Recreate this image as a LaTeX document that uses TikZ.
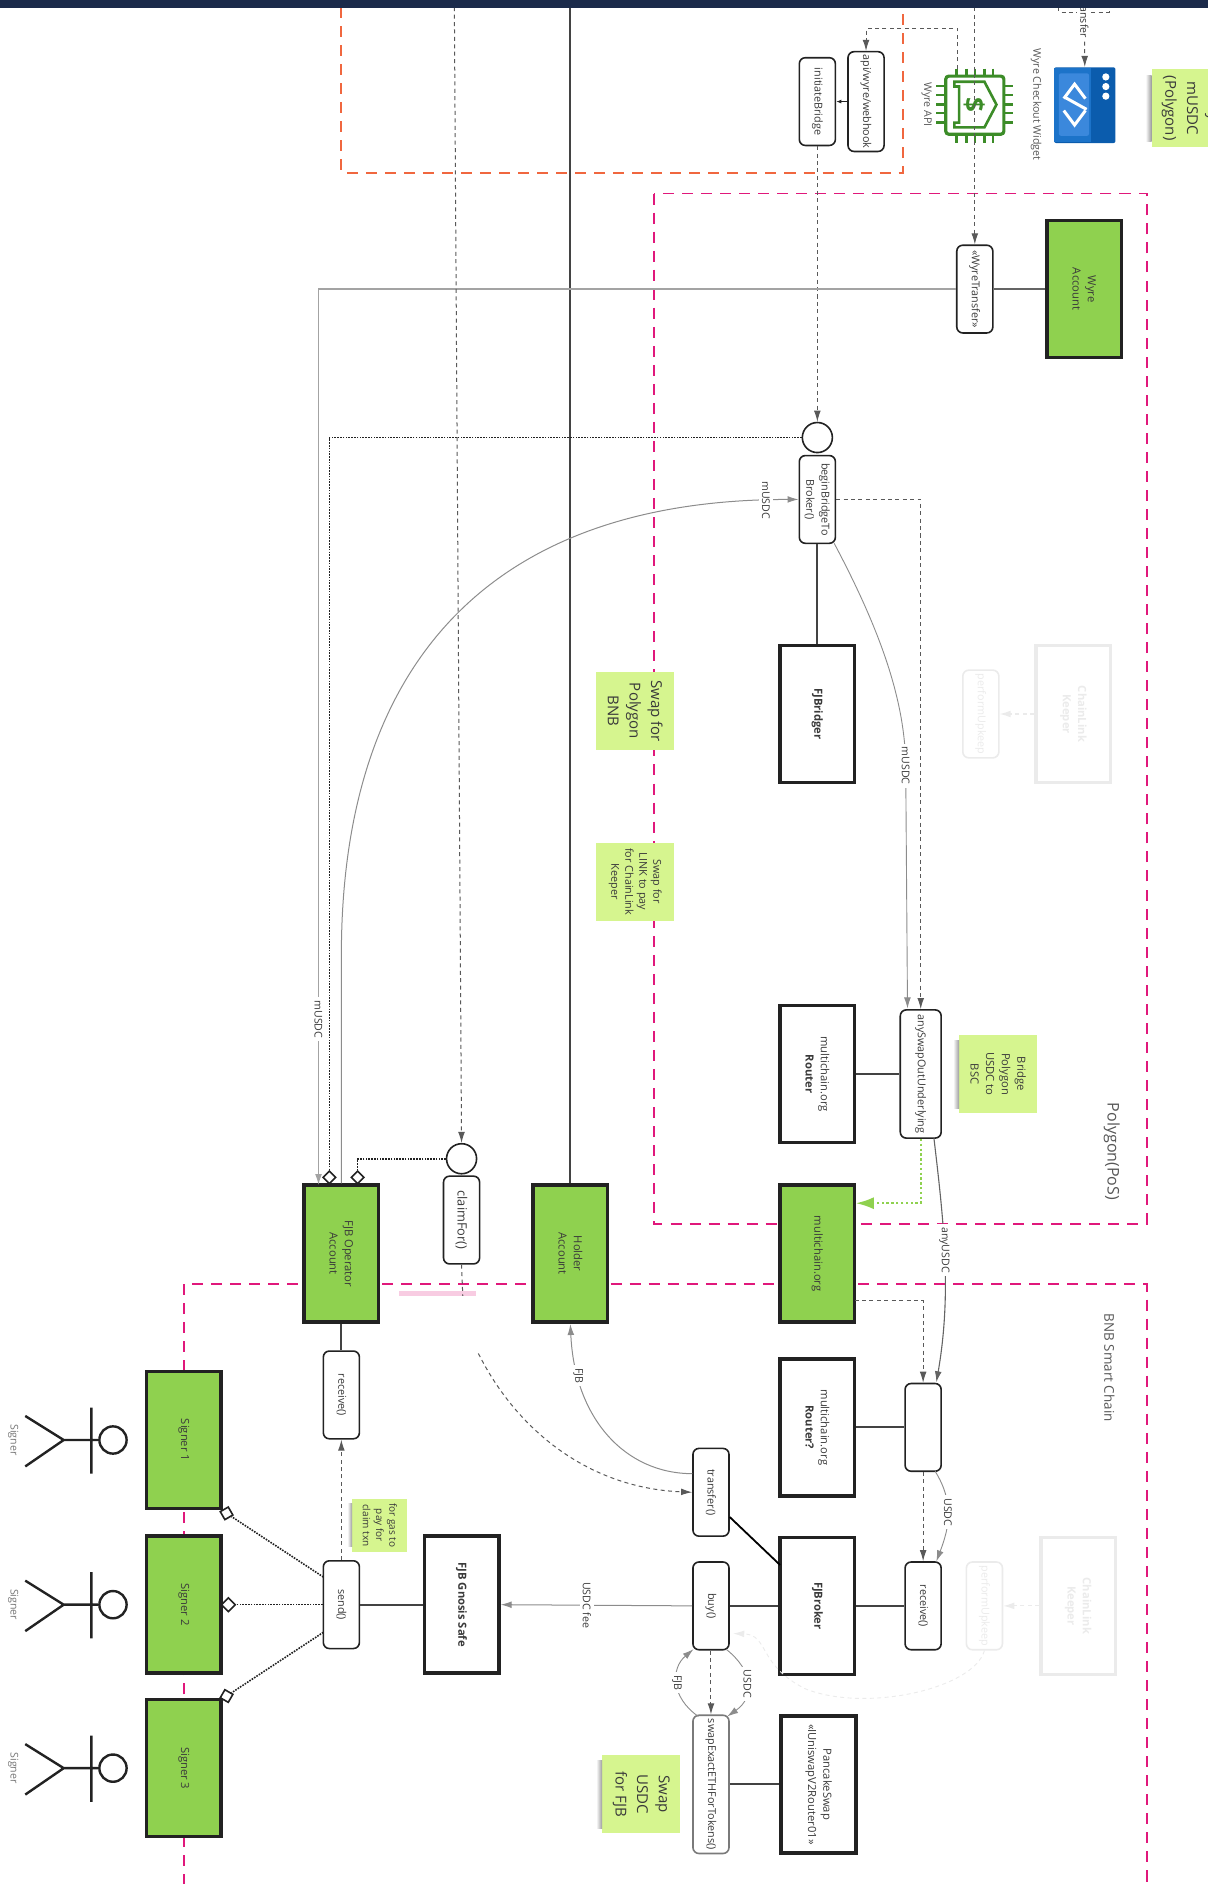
\documentclass[tikz,border=0pt]{standalone}
\usepackage{fontspec}
\setmainfont{Open Sans}
\usetikzlibrary{shapes.geometric, arrows.meta}
\definecolor{navybar}{HTML}{1B2A4A}
\definecolor{zonepink}{HTML}{E0187B}
\definecolor{zoneorange}{HTML}{F0673F}
\definecolor{acctgreen}{HTML}{8FD14F}
\definecolor{notegreen}{HTML}{D6F58F}
\definecolor{inkdark}{HTML}{222222}
\definecolor{inktext}{HTML}{3A3A3A}
\definecolor{flowgray}{HTML}{8C8C8C}
\definecolor{fadegray}{HTML}{EBEBEB}
\definecolor{chipgreen}{HTML}{3C8C28}
\definecolor{widgetdark}{HTML}{0B5CAD}
\definecolor{widgetmid}{HTML}{1C73C9}
\definecolor{widgetlight}{HTML}{3B88DC}
\tikzset{
    >={Latex[length=5.5pt,width=3.4pt]},
    zone/.style = {
        draw=zonepink,
        line width=0.9pt,
        dash pattern=on 5.5pt off 4pt
    },
    contract/.style = {
        rectangle, draw=inkdark, fill=white, rotate=-90,
        line width=1.8pt,
        minimum width=68.4pt,
        minimum height=37.2pt,
        inner sep=0pt, align=center, text=inktext,
        font=\fontsize{5.6}{7.6}\selectfont
    },
    account/.style = {
        contract, fill=acctgreen
    },
    fadedbox/.style = {
        contract, draw=fadegray, text=fadegray
    },
    func/.style = {
        rectangle, draw=inkdark, fill=white, rotate=-90,
        rounded corners=3pt,
        line width=0.8pt,
        minimum width=43.8pt,
        minimum height=18pt,
        inner sep=0pt, align=center, text=inktext,
        font=\fontsize{5.4}{7.6}\selectfont
    },
    fadedfunc/.style = {
        func, draw=fadegray, text=fadegray
    },
    port/.style = {
        circle, draw=inkdark, fill=white,
        line width=0.8pt,
        minimum size=15pt, inner sep=0pt
    },
    note/.style = {
        rectangle, fill=notegreen, rotate=-90,
        minimum width=39pt,
        minimum height=39pt,
        inner sep=0pt, align=center, text=inktext,
        font=\fontsize{5.4}{7}\selectfont
    },
    bignote/.style = {
        note, font=\fontsize{7.5}{10.8}\selectfont
    },
    notedrop/.style = {
        left color=white, right color=black!40, draw=none
    },
    tag/.style = {
        rotate=-90, inner sep=0pt, align=center, text=inktext!85,
        font=\fontsize{5.3}{6.4}\selectfont
    },
    edgetag/.style = {
        tag, fill=white, inner sep=1.5pt, text=inktext
    },
    zonetag/.style = {
        tag, font=\fontsize{8}{9}\selectfont
    },
    link/.style = {
        draw=inkdark!85, line width=0.9pt
    },
    flow/.style = {
        ->, draw=flowgray, line width=0.5pt
    },
    call/.style = {
        ->, draw=inkdark!75, line width=0.5pt,
        dash pattern=on 2pt off 1.7pt
    },
    faded/.style = {
        ->, draw=fadegray, line width=0.6pt,
        dash pattern=on 2pt off 1.7pt
    },
    owner/.style = {
        draw=inkdark, line width=0.8pt,
        dash pattern=on 0.8pt off 0.6pt
    },
    opendiamond/.style = {
        diamond, draw=inkdark, fill=white,
        line width=0.8pt,
        minimum size=6.6pt, inner sep=0pt
    },
    opensquare/.style = {
        rectangle, draw=inkdark, fill=white,
        line width=0.8pt,
        minimum size=4.6pt, inner sep=0pt
    },
    actor/.style = {
        draw=inkdark, line width=1.2pt
    },
    actorhead/.style = {
        circle, draw=inkdark, fill=white,
        line width=1.2pt,
        minimum size=13.6pt, inner sep=0pt
    }
}
\begin{document}
\begin{tikzpicture}[x=0.6pt, y=-0.6pt]

\useasboundingbox (0,0) rectangle (1005,1567.4);

\draw [zone, draw=zoneorange] (284,6) -- (284,144) -- (751,144) -- (751,6);
\draw [zone] (544,161) rectangle (954,1018);
\draw [zone] (153,1568) -- (153,1068) -- (954,1068) -- (954,1568);

\node (polygonzone) [zonetag] at (925,958) {Polygon(PoS)};
\node (bnbzone) [zonetag, font=\fontsize{6.7}{8}\selectfont] at (923,1138) {BNB Smart Chain};

\node (webhook) [func, minimum width=49.8pt] at (720.5,84.5) {api/wyre/webhook};
\node (initbridge) [func] at (680,84.5) {initiateBridge};
\node (wyretransfer) [func] at (811,240.5) {«WyreTransfer»};
\node (wyreacct) [account] at (902,240.5) {Wyre\\Account};
\node (beginbridge) [func] at (680,415.5) {beginBridgeTo\\Broker()};
\node (beginport) [port] at (680,364) {};
\node (fjbridger) [contract] at (680,594) {\textbf{FJBridger}};
\node (keepera) [fadedbox] at (893,594) {\textbf{ChainLink}\\\textbf{Keeper}};
\node (upkeepa) [fadedfunc] at (816,594) {performUpkeep};
\node (swappoly) [bignote] at (528.5,591.5) {Swap for\\Polygon\\BNB};
\node (swaplink) [note] at (528.5,733.5) {Swap for\\LINK to pay\\for ChainLink\\Keeper};
\node (anyswap) [func, minimum width=64pt, minimum height=20.4pt] at (766,893.5) {anySwapOutUnderlying};
\node (routera) [contract] at (680,893.5) {multichain.org\\\textbf{Router}};
\node (bridgenote) [note, font=\fontsize{5.6}{7.8}\selectfont] at (830.5,893.5) {Bridge\\Polygon\\USDC to\\BSC};
\node (multichain) [account] at (680,1043) {multichain.org};
\node (holder) [account] at (474.5,1043) {Holder\\Account};
\node (operator) [account] at (284,1043) {FJB Operator\\Account};
\node (claimfor) [func, font=\fontsize{6.4}{7.6}\selectfont] at (384,1015) {claimFor()};
\node (claimport) [port] at (384,964) {};
\node (pinkbar) [rectangle, fill=zonepink!22, minimum width=38.4pt, minimum height=2.4pt, inner sep=0pt] at (364,1076) {};
\node (dstrouter) [func] at (768,1187.5) {};
\node (routerb) [contract] at (680,1187.5) {multichain.org\\\textbf{Router?}};
\node (transfer) [func] at (591.5,1241.5) {transfer()};
\node (fjbroker) [contract] at (680,1336) {\textbf{FJBroker}};
\node (receiveb) [func] at (768,1336) {receive()};
\node (buy) [func] at (591.5,1336) {buy()};
\node (upkeepb) [fadedfunc] at (819,1336) {performUpkeep};
\node (keeperb) [fadedbox] at (897,1336) {\textbf{ChainLink}\\\textbf{Keeper}};
\node (swapexact) [func, minimum width=69pt, draw=inkdark!60] at (591.5,1484.5) {swapExactETHForTokens()};
\node (pancake) [contract] at (681,1484.5) {PancakeSwap\\«IUniswapV2Router01»};
\node (swapfjb) [bignote] at (533.5,1492.5) {Swap\\USDC\\for FJB};
\node (gnosis) [contract] at (384,1335) {\textbf{FJB Gnosis Safe}};
\node (receivea) [func] at (284,1160.5) {receive()};
\node (send) [func] at (284,1335) {send()};
\node (gasnote) [note, font=\fontsize{5}{6.6}\selectfont, minimum width=26.4pt, minimum height=27.6pt] at (316,1269) {for gas to\\pay for\\claim txn};
\node (signera) [account] at (153,1198) {Signer 1};
\node (signerb) [account] at (153,1335) {Signer 2};
\node (signerc) [account] at (153,1471) {Signer 3};

\path [notedrop] (793,866) rectangle (798,922);
\path [notedrop] (953,63) rectangle (958,118);
\path [notedrop] (496,1465) rectangle (501,1521);
\path [notedrop] (289,1251) rectangle (293,1287);
\node (buynote) [bignote] at (990.5,90) {Buy\\mUSDC\\(Polygon)};

\draw [line width=0.8pt, draw=inkdark!70] (wyreacct.south) -- (wyretransfer.north);
\draw [link] (beginbridge.east) -- (fjbridger.west);
\draw [link] (routera.north) -- (anyswap.south);
\draw [link] (routerb.north) -- (dstrouter.south);
\draw [link] (fjbroker.north) -- (receiveb.south);
\draw [link] (buy.north) -- (fjbroker.south);
\draw [link] (swapexact.north) -- (pancake.south);
\draw [link] (send.north) -- (gnosis.south);
\draw [link] (operator.east) -- (receivea.west);

\coordinate (transfercorner) at (607,1262);
\coordinate (brokercorner) at (649,1302);
\draw [link, draw=black] (transfercorner) -- (brokercorner);

\coordinate (holdertop) at (474.5,6);
\draw [link, draw=inkdark!85, line width=1pt] (holdertop) -- (holder.west);

\node (chip) [rectangle, draw=chipgreen, rounded corners=1.5pt, line width=1.6pt, minimum size=29pt, inner sep=0pt] at (811,87.5) {};
\draw [draw=chipgreen, line width=1.3pt] (796,57) -- (796,63) (804,57) -- (804,63) (811,57) -- (811,63) (819,57) -- (819,63) (826,57) -- (826,63);
\draw [draw=chipgreen, line width=1.3pt] (796,112) -- (796,119) (804,112) -- (804,119) (811,112) -- (811,119) (819,112) -- (819,119) (826,112) -- (826,119);
\draw [draw=chipgreen, line width=1.3pt] (779,71.5) -- (786,71.5) (779,79) -- (786,79) (779,87) -- (786,87) (779,94) -- (786,94) (779,102) -- (786,102);
\draw [draw=chipgreen, line width=1.3pt] (836,71.5) -- (843,71.5) (836,79) -- (843,79) (836,87) -- (843,87) (836,94) -- (843,94) (836,102) -- (843,102);
\draw [draw=chipgreen, line width=1.3pt] (794,68) -- (794,72) -- (798,72) -- (798,102) -- (794,102) -- (794,106) -- (819,106) -- (829,87) -- (819,68) -- cycle;
\node (chipdollar) [rotate=-90, text=chipgreen, font=\fontsize{13}{13}\bfseries] at (811,87.5) {\$};
\node (wyreapitag) [tag] at (771,87) {Wyre API};
\node (checkouttag) [tag] at (862,87) {Wyre Checkout Widget};

\node (widget) [rectangle, fill=widgetdark, rounded corners=1pt, minimum width=30.6pt, minimum height=37.8pt, inner sep=0pt] at (902.5,87.5) {};
\path [fill=widgetmid] (877,56.5) rectangle (908,118.5);
\path [fill=widgetlight] (881,61) [rounded corners=1pt] rectangle (906,113);
\draw [white, line width=1.5pt] (885,82) -- (894,70) -- (903,82);
\draw [white, line width=1.5pt] (886,81) -- (904,91);
\draw [white, line width=1.5pt] (885,92) -- (894,104) -- (903,92);
\path [fill=white] (920,64) circle [radius=3] (920,72) circle [radius=3] (920,80) circle [radius=3];

\coordinate (checkoutleft) at (881,6);
\coordinate (checkoutbend) at (881,10);
\coordinate (checkoutright) at (923,6);
\coordinate (checkoutbendb) at (923,10);
\coordinate (checkoutmid) at (902,10);
\draw [call, -] (checkoutleft) -- (checkoutbend) -- (checkoutbendb) -- (checkoutright);
\draw [call] (checkoutmid) -- node[edgetag, pos=0.1] {Transfer} (widget.north);

\coordinate (wyrelinetop) at (811,6);
\draw [call] (wyrelinetop) -- (wyretransfer.west);

\coordinate (chiptop) at (797,57);
\coordinate (chipbend) at (797,24);
\coordinate (hookbend) at (720.5,24);
\draw [call] (chiptop) -- (chipbend) -- (hookbend) -- (webhook.west);

\draw [->, draw=inkdark, line width=0.4pt, >={Latex[length=2.6pt,width=2pt]}] (webhook.south) -- (initbridge.north);
\draw [call] (initbridge.east) -- (beginport.north);

\coordinate (mintbend) at (265,240.5);
\coordinate (operatormint) at (265,986);
\draw [flow, draw=flowgray!80, line width=0.7pt] (wyretransfer.south) -- (mintbend) -- node[edgetag, pos=0.815] {mUSDC} (operatormint);

\node (beginowner) [opendiamond] at (274,979.5) {};
\draw [owner] (beginport.west) -| (beginowner.north);
\node (claimowner) [opendiamond] at (297.5,979.5) {};
\draw [owner] (claimport.west) -| (claimowner.north);

\draw [flow] (operator.west) -- ++(0,-190) .. controls (284,560) and (400,415.5) .. node[edgetag, pos=0.965] {mUSDC} (beginbridge.south);

\coordinate (beginright) at (766,415.5);
\draw [call] (beginbridge.north) -- (beginright) -- (anyswap.west);

\coordinate (begincorner) at (694,452);
\coordinate (anyswapin) at (755,839);
\draw [flow, line width=0.45pt] (begincorner) .. controls (730,520) and (753,580) .. (753.5,637) -- node[edgetag, pos=0] {mUSDC} (anyswapin);

\coordinate (anyswapbend) at (766,1001);
\coordinate (anyswapout) at (777,947);
\coordinate (dstin) at (779,1150);
\coordinate (multichainedge) at (712,1001);
\draw [->, draw=acctgreen, line width=1.1pt, dash pattern=on 1.2pt off 1.2pt, >={Latex[length=9pt,width=6pt]}] (anyswap.east) -- (anyswapbend) -- (multichainedge);
\draw [->, draw=inkdark!70, line width=0.55pt] (anyswapout) .. controls (785,1015) and (792,1075) .. node[edgetag, pos=0.47] {anyUSDC} (dstin);

\coordinate (multichainout) at (711,1082);
\coordinate (multichainbend) at (768,1082);
\draw [call] (multichainout) -- (multichainbend) -- (dstrouter.west);

\draw [call] (dstrouter.east) -- (receiveb.west);
\coordinate (dstcorner) at (778,1224);
\coordinate (receivecorner) at (779,1299);
\draw [flow, line width=0.45pt] (dstcorner) .. controls (794,1250) and (790,1270) .. node[edgetag, pos=0.47] {USDC} (receivecorner);

\draw [faded] (keepera.south) -- (upkeepa.north);
\draw [faded] (keeperb.south) -- (upkeepb.north);
\coordinate (buycorner) at (610,1359);
\draw [faded, line width=0.45pt] (upkeepb.east) .. controls (810,1405) and (720,1425) .. (670,1405) .. controls (630,1385) and (640,1360) .. (buycorner);

\coordinate (transferleft) at (576,1226);
\draw [flow, line width=0.5pt] (transferleft) .. controls (520,1226) and (478,1180) .. node[edgetag, pos=0.8] {FJB} (holder.east);

\draw [flow] (buy.south) -- node[edgetag, pos=0.55] {USDC fee} (gnosis.north);

\draw [call] (buy.east) -- (swapexact.west);
\coordinate (buyrightcorner) at (604,1372);
\coordinate (swaprightcorner) at (605,1428);
\coordinate (buyleftcorner) at (577,1372);
\coordinate (swapleftcorner) at (581,1428);
\draw [flow, line width=0.45pt] (buyrightcorner) .. controls (627,1390) and (628,1412) .. node[edgetag, pos=0.5] {USDC} (swaprightcorner);
\draw [flow, line width=0.45pt] (swapleftcorner) .. controls (558,1412) and (558,1388) .. node[edgetag, pos=0.5] {FJB} (buyleftcorner);

\coordinate (claimtop) at (378,6);
\draw [call] (claimtop) -- (claimport.north);
\coordinate (claimstub) at (385,1078);
\draw [call, -] (claimfor.east) -- (claimstub);
\coordinate (claimresume) at (398,1126);
\draw [call] (claimresume) .. controls (430,1190) and (490,1238) .. (transfer.south);

\draw [call] (send.west) -- (receivea.east);

\node (signerabox) [opensquare, rotate=30] at (188.5,1259) {};
\node (signerbbox) [opendiamond, minimum size=7.2pt] at (190,1335) {};
\node (signercbox) [opensquare, rotate=-30] at (188.5,1411) {};
\coordinate (sendupper) at (269,1312);
\coordinate (sendlower) at (269,1358);
\draw [owner] (sendupper) -- (signerabox);
\draw [owner] (send.south) -- (signerbbox);
\draw [owner] (sendlower) -- (signercbox);

\node (heada) [actorhead] at (94,1198) {};
\node (headb) [actorhead] at (94,1335) {};
\node (headc) [actorhead] at (94,1471) {};
\coordinate (hipa) at (53,1198);
\coordinate (hipb) at (53,1335);
\coordinate (hipc) at (53,1471);
\draw [actor] (heada) -- (hipa) -- (21,1178) (hipa) -- (21,1220) (76,1171) -- (76,1226);
\draw [actor] (headb) -- (hipb) -- (21,1315) (hipb) -- (21,1357) (76,1308) -- (76,1363);
\draw [actor] (headc) -- (hipc) -- (21,1451) (hipc) -- (21,1493) (76,1444) -- (76,1499);
\node (signertaga) [tag, text=inktext!70] at (11,1198) {Signer};
\node (signertagb) [tag, text=inktext!70] at (11,1335) {Signer};
\node (signertagc) [tag, text=inktext!70] at (11,1471) {Signer};

\path [fill=navybar] (0,0) rectangle (1005,6.5);

\end{tikzpicture}
\end{document}
